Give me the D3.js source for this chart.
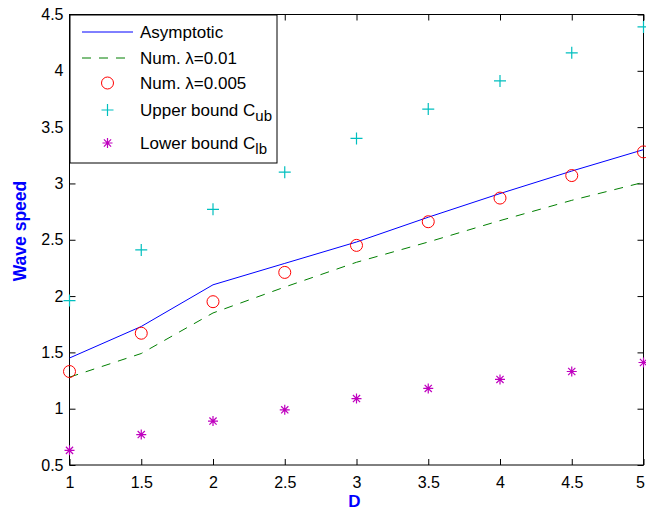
<!DOCTYPE html>
<html>
<head>
<meta charset="utf-8">
<script src="https://cdn.jsdelivr.net/npm/d3@7"></script>
<style>
  html, body { margin: 0; padding: 0; background: #fff; }
  svg { display: block; font-family: "Liberation Sans", Arial, sans-serif; }
</style>
</head>
<body>
<svg id="chart" width="646" height="511"></svg>
<script>
// Wave speed versus D
const dValues      = [1, 1.5, 2, 2.5, 3, 3.5, 4, 4.5, 5];
const asymptotic   = [1.45, 1.73, 2.10, 2.29, 2.48, 2.70, 2.91, 3.11, 3.30];
const numLambda01  = [1.28, 1.49, 1.85, 2.08, 2.30, 2.48, 2.67, 2.85, 3.01];
const numLambda005 = [1.33, 1.67, 1.95, 2.21, 2.45, 2.66, 2.87, 3.07, 3.28];
const upperBound   = [1.96, 2.41, 2.77, 3.10, 3.40, 3.66, 3.91, 4.16, 4.39];
const lowerBound   = [0.63, 0.77, 0.89, 0.99, 1.09, 1.18, 1.26, 1.33, 1.41];
const xTicks = [1, 1.5, 2, 2.5, 3, 3.5, 4, 4.5, 5];
const yTicks = [0.5, 1, 1.5, 2, 2.5, 3, 3.5, 4, 4.5];

(function () {
const svg = d3.select("#chart");
const pLeft = 69.5, pRight = 643.5, pTop = 14.5, pBottom = 465;

const x = d3.scaleLinear().domain([1, 5]).range([pLeft, pRight]);
const y = d3.scaleLinear().domain([0.5, 4.5]).range([pBottom, pTop]);

const tickLen = 6;
const tickFont = 16;
const legendFont = 17;

// axes with inward ticks on all four sides
const g = svg.append("g");
const xAxisG = g.append("g").attr("transform", `translate(0,${pBottom})`)
  .call(d3.axisBottom(x).tickValues(xTicks).tickSize(-tickLen).tickPadding(11.5).tickFormat(d3.format("")));
g.append("g").attr("transform", `translate(0,${pTop})`)
  .call(d3.axisTop(x).tickValues(xTicks).tickSize(-tickLen).tickFormat(""));
g.append("g").attr("transform", `translate(${pLeft},0)`)
  .call(d3.axisLeft(y).tickValues(yTicks).tickSize(-tickLen).tickPadding(6).tickFormat(d3.format("")));
g.append("g").attr("transform", `translate(${pRight},0)`)
  .call(d3.axisRight(y).tickValues(yTicks).tickSize(-tickLen).tickFormat(""));
g.selectAll(".domain").remove();
g.selectAll(".tick line").attr("stroke", "#000").attr("stroke-width", 1);
g.selectAll(".tick text").attr("font-size", tickFont).attr("fill", "#000")
  .attr("font-family", "Liberation Sans, Arial, sans-serif");
// keep the last x label inside the canvas edge
xAxisG.selectAll(".tick text").filter(d => d === 5).attr("x", -3.5);

svg.append("rect").attr("x", pLeft).attr("y", pTop)
  .attr("width", pRight - pLeft).attr("height", pBottom - pTop)
  .attr("fill", "none").attr("stroke", "#000").attr("stroke-width", 1);

// axis titles
svg.append("text").attr("x", x(3) - 2).attr("y", 507)
  .attr("text-anchor", "middle").attr("font-size", 17).attr("font-weight", "bold")
  .attr("fill", "#0000ff").text("D");
svg.append("text").attr("transform", `translate(26,231) rotate(-90)`)
  .attr("text-anchor", "middle").attr("font-size", 17.5).attr("font-weight", "bold")
  .attr("fill", "#0000ff").text("Wave speed");

// series
const pts = vals => dValues.map((d, i) => [d, vals[i]]);
const line = d3.line().x(d => x(d[0])).y(d => y(d[1]));

svg.append("path").datum(pts(asymptotic)).attr("d", line)
  .attr("fill", "none").attr("stroke", "#0000ff").attr("stroke-width", 1);
svg.append("path").datum(pts(numLambda01)).attr("d", line)
  .attr("fill", "none").attr("stroke", "#007f00").attr("stroke-width", 1)
  .attr("stroke-dasharray", "9,8");

const plusPath = s => `M${-s},0H${s}M0,${-s}V${s}`;
const starPath = s => {
  const d = s * 0.72;
  return `M${-s},0H${s}M0,${-s}V${s}M${-d},${-d}L${d},${d}M${-d},${d}L${d},${-d}`;
};

svg.append("g").selectAll("circle").data(pts(numLambda005)).join("circle")
  .attr("cx", d => x(d[0])).attr("cy", d => y(d[1])).attr("r", 6)
  .attr("fill", "none").attr("stroke", "#ff0000").attr("stroke-width", 1);
svg.append("g").selectAll("path").data(pts(upperBound)).join("path")
  .attr("transform", d => `translate(${x(d[0])},${y(d[1])})`)
  .attr("d", plusPath(6)).attr("fill", "none").attr("stroke", "#00bfbf").attr("stroke-width", 1.2);
svg.append("g").selectAll("path").data(pts(lowerBound)).join("path")
  .attr("transform", d => `translate(${x(d[0])},${y(d[1])})`)
  .attr("d", starPath(5)).attr("fill", "none").attr("stroke", "#bf00bf").attr("stroke-width", 1.2);

// legend
const lg = svg.append("g");
lg.append("rect").attr("x", 70).attr("y", 15).attr("width", 207).attr("height", 148)
  .attr("fill", "#fff").attr("stroke", "#000").attr("stroke-width", 1);
const sx0 = 82, sx1 = 133, sxm = 107.5, tx = 140;
const rows = [32, 58, 83, 110, 143];
lg.append("line").attr("x1", sx0).attr("x2", sx1).attr("y1", rows[0]).attr("y2", rows[0])
  .attr("stroke", "#0000ff");
lg.append("line").attr("x1", sx0).attr("x2", sx1).attr("y1", rows[1]).attr("y2", rows[1])
  .attr("stroke", "#007f00").attr("stroke-dasharray", "9,8");
lg.append("circle").attr("cx", sxm).attr("cy", rows[2]).attr("r", 6)
  .attr("fill", "none").attr("stroke", "#ff0000");
lg.append("path").attr("transform", `translate(${sxm},${rows[3]})`).attr("d", plusPath(6))
  .attr("fill", "none").attr("stroke", "#00bfbf").attr("stroke-width", 1.2);
lg.append("path").attr("transform", `translate(${sxm},${rows[4]})`).attr("d", starPath(5))
  .attr("fill", "none").attr("stroke", "#bf00bf").attr("stroke-width", 1.2);

const labelText = (yy) => lg.append("text").attr("x", tx).attr("y", yy + 6)
  .attr("font-size", legendFont).attr("fill", "#000");
labelText(rows[0]).text("Asymptotic");
labelText(rows[1]).text("Num. λ=0.01");
labelText(rows[2]).text("Num. λ=0.005");
const t4 = labelText(rows[3]);
t4.append("tspan").text("Upper bound C");
t4.append("tspan").attr("dy", 5).attr("font-size", 15).text("ub");
const t5 = labelText(rows[4]);
t5.append("tspan").text("Lower bound C");
t5.append("tspan").attr("dy", 5).attr("font-size", 15).text("lb");
})();
</script>
</body>
</html>
